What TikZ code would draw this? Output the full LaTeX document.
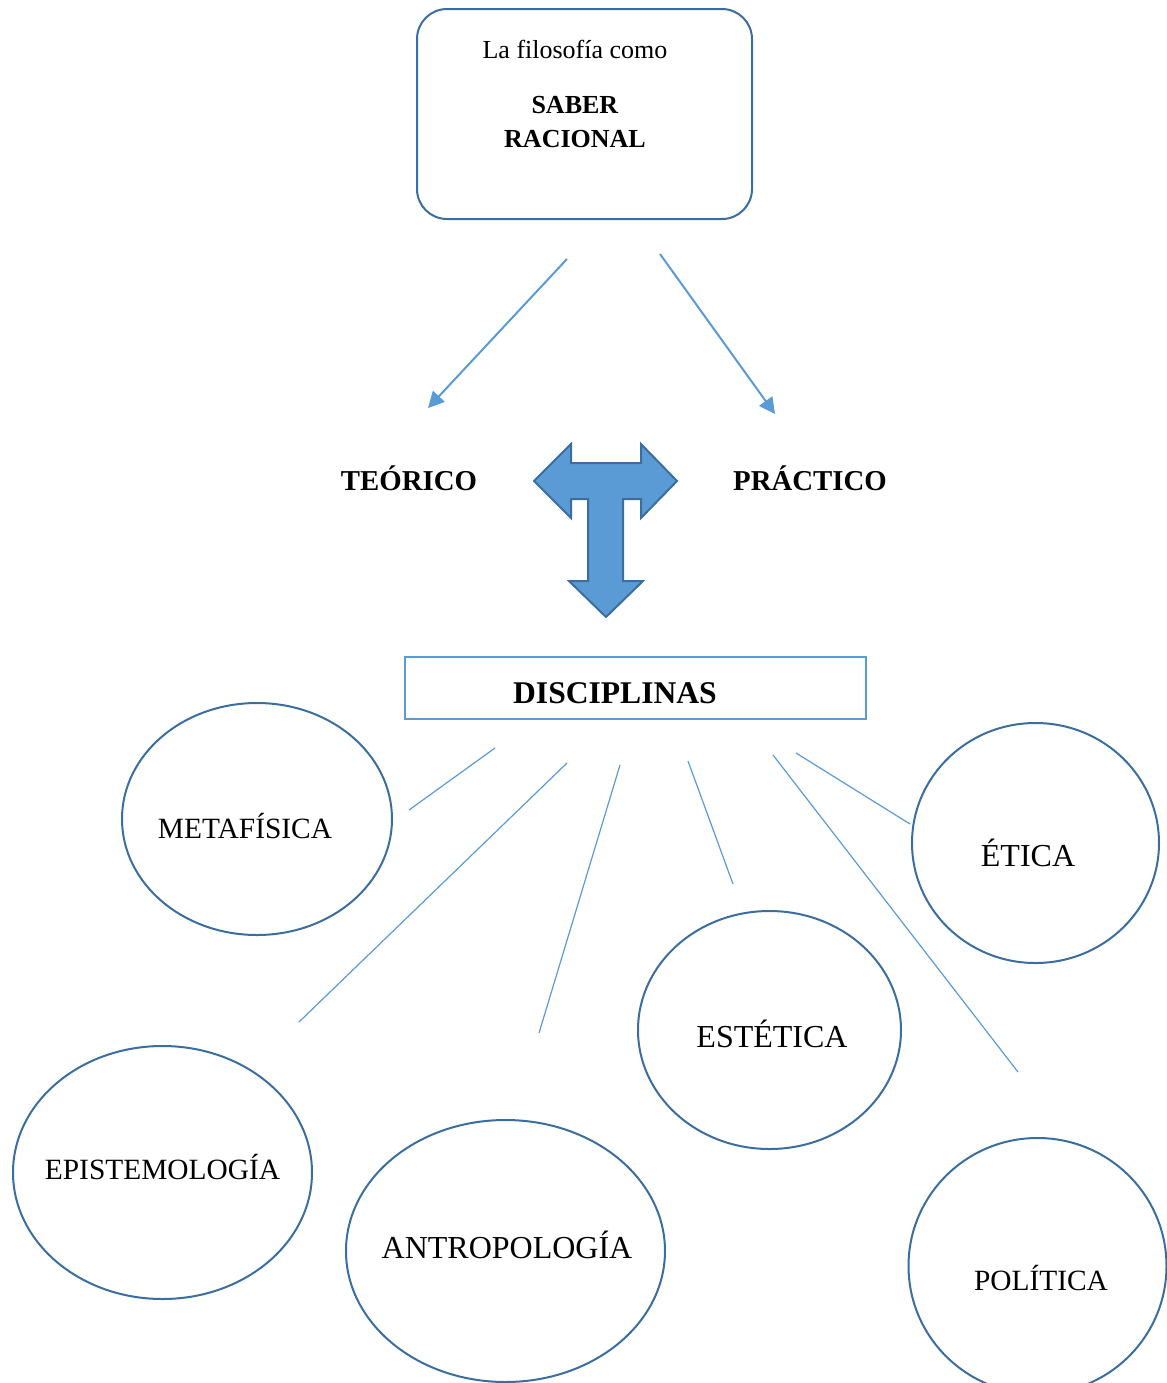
\documentclass[tikz,border=0pt]{standalone}
\usepackage{fontspec}
\setmainfont{Liberation Serif}
\usetikzlibrary{arrows.meta,shapes.geometric}

\definecolor{marco}{HTML}{3B6E9E}
\definecolor{celeste}{HTML}{5B9BD5}

\begin{document}
\begin{tikzpicture}[x=0.5pt, y=-0.5pt,
    titlebox/.style={draw=marco, line width=1pt, rounded corners=15pt, minimum width=167.5pt, minimum height=105pt},
    discbox/.style={draw=celeste, line width=1pt, minimum width=230.5pt, minimum height=31pt},
    disc/.style={ellipse, draw=marco, line width=1pt, inner sep=0pt},
    flecha/.style={-{Triangle[length=8pt,width=8pt]}, celeste, line width=1pt},
    rama/.style={celeste, line width=0.6pt},
    txt/.style={font=\fontsize{14.7}{17}\selectfont, text height=9.7pt, text depth=0pt, inner sep=0pt},
    bigtxt/.style={font=\fontsize{16}{19}\selectfont, text height=10.5pt, text depth=0pt, inner sep=0pt},
    tipo/.style={font=\fontsize{14.4}{17}\selectfont\bfseries, text height=9.5pt, text depth=0pt, inner sep=0pt}
  ]
  \useasboundingbox (0,0) rectangle (1167,1383);
  \clip (0,0) rectangle (1167,1383);

  % saber racional
  \node[titlebox] (saber) at (584.5,114) {};
  \node[align=center, inner sep=0pt, font=\fontsize{13}{17}\selectfont] (titulo) at (575,94)
    {La filosofía como\\[10.5pt]\textbf{SABER}\\\textbf{RACIONAL}};

  \node[tipo] (teorico) at (409,481) {TEÓRICO};
  \node[tipo] (practico) at (810,481) {PRÁCTICO};

  \coordinate (s1) at (567,259);
  \coordinate (t1) at (428,408);
  \coordinate (s2) at (660,254);
  \coordinate (t2) at (775,414);
  \draw[flecha] (s1) -- (t1);
  \draw[flecha] (s2) -- (t2);

  % flecha en T
  \draw[fill=celeste, draw=marco, line width=1pt, line join=miter]
    (534,481) -- (571,444) -- (571,463) -- (641,463) -- (641,444) -- (677,481)
    -- (641,518) -- (641,499) -- (623,499) -- (623,581) -- (643,581) -- (606,617)
    -- (569,581) -- (588,581) -- (588,499) -- (571,499) -- (571,518) -- cycle;

  \node[discbox, label={[font=\fontsize{15.8}{18}\selectfont\bfseries, text height=10.4pt, text depth=0pt, inner sep=0pt, xshift=-10.25pt, yshift=-2.5pt]center:DISCIPLINAS}] (disciplinas) at (635.5,688) {};

  % disciplinas
  \node[disc, minimum width=135pt, minimum height=116pt,
    label={[txt, xshift=-6pt, yshift=-5pt]center:METAFÍSICA}] (metafisica) at (257,819) {};
  \node[disc, minimum width=123.5pt, minimum height=120pt,
    label={[bigtxt, xshift=-3.75pt, yshift=-6.5pt]center:ÉTICA}] (etica) at (1035.5,843) {};
  \node[disc, minimum width=131.5pt, minimum height=119pt,
    label={[bigtxt, xshift=1.25pt, yshift=-3.5pt]center:ESTÉTICA}] (estetica) at (769.5,1030) {};
  \node[disc, minimum width=149.5pt, minimum height=126.5pt,
    label={[txt, yshift=1.25pt]center:EPISTEMOLOGÍA}] (epistemologia) at (162.5,1172.5) {};
  \node[disc, minimum width=159.5pt, minimum height=131pt,
    label={[bigtxt, xshift=0.75pt, yshift=1.5pt]center:ANTROPOLOGÍA}] (antropologia) at (505.5,1251) {};
  \node[disc, minimum width=129pt, minimum height=128pt,
    label={[txt, xshift=1.75pt, yshift=-7.5pt]center:POLÍTICA}] (politica) at (1037.5,1266) {};

  % ramas
  \coordinate (r1) at (495,748);  \coordinate (e1) at (409,810);
  \coordinate (r2) at (567,763);  \coordinate (e2) at (299,1022);
  \coordinate (r3) at (620,765);  \coordinate (e3) at (539,1033);
  \coordinate (r4) at (688,761);  \coordinate (e4) at (733,884);
  \coordinate (r5) at (773,755);  \coordinate (e5) at (1018,1072);
  \coordinate (r6) at (796,753);  \coordinate (e6) at (910,824);
  \draw[rama] (r1) -- (e1);
  \draw[rama] (r2) -- (e2);
  \draw[rama] (r3) -- (e3);
  \draw[rama] (r4) -- (e4);
  \draw[rama] (r5) -- (e5);
  \draw[rama] (r6) -- (e6);
\end{tikzpicture}
\end{document}
